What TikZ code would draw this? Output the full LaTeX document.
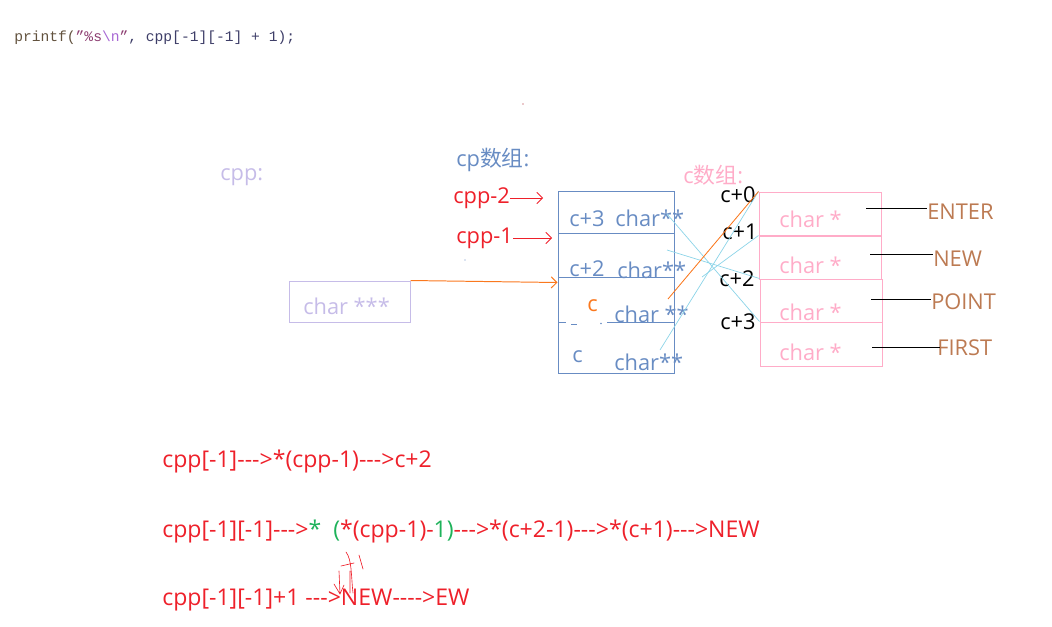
\documentclass[tikz,border=0pt]{standalone}
\usepackage{fontspec}
\newfontfamily\latinfont{Open Sans}
\newfontfamily\cjk{Noto Sans CJK SC}
\newfontfamily\codefont{Liberation Mono}
\usepackage{xcolor}
\usepackage{tikz}
\usetikzlibrary{arrows.meta, positioning}
\definecolor{ptrred}{RGB}{238,32,42}
\definecolor{cpblue}{RGB}{104,140,195}
\definecolor{tplav}{RGB}{198,188,232}
\definecolor{cpink}{RGB}{255,172,200}
\definecolor{strbrown}{RGB}{188,122,82}
\definecolor{ptrorange}{RGB}{250,120,30}
\definecolor{linkblue}{RGB}{140,212,232}
\definecolor{stepgreen}{RGB}{30,178,90}
\definecolor{codedark}{RGB}{62,62,104}
\definecolor{codefn}{RGB}{98,82,62}
\definecolor{codestr}{RGB}{140,60,112}
\definecolor{codeesc}{RGB}{168,104,212}
\tikzset{
  lbl/.style={anchor=west, inner sep=0pt, font=\latinfont\fontsize{15.5}{18}\selectfont},
  work/.style={lbl, ptrred, font=\latinfont\fontsize{16.4}{19}\selectfont},
  code/.style={anchor=west, inner sep=0pt, font=\codefont\fontsize{10.4}{12}\selectfont, codedark},
  tpbox/.style={draw=tplav, line width=0.7pt, minimum width=3cm, minimum height=1.025cm, inner sep=0pt},
  cpbox/.style={draw=cpblue, line width=0.7pt, minimum width=2.9cm, minimum height=4.525cm, inner sep=0pt},
  cbox/.style={draw=cpink, line width=0.7pt, minimum width=3.05cm, minimum height=1.075cm, inner sep=0pt},
  rarr/.style={ptrred, line width=0.6pt, -{Straight Barb[length=4pt, width=8pt]}},
  link/.style={linkblue, line width=0.5pt},
}
\begin{document}
\begin{tikzpicture}[x=0.025cm, y=-0.025cm]
  \useasboundingbox (0,0) rectangle (1052,626);
  % source line
  \node[code] (src) at (14,38) {\textcolor{codefn}{printf(}\textcolor{codestr}{”\%s}\textcolor{codeesc}{\textbackslash n}\textcolor{codestr}{”}, cpp[-1][-1] + 1);};
  \fill[ptrred!70!black] (523,104) circle (0.6);
  \fill[cpblue] (465,260) circle (0.6);

  % titles
  \node[lbl, tplav] (cpplab) at (220,177) {cpp:};
  \node[lbl, cpblue] (cplab) at (456,160) {cp{\cjk 数组}:};
  \node[lbl, cpink] (clab) at (683,175) {c{\cjk 数组}:};

  % cpp itself
  \node[tpbox] (tp) at (350,301.5) {};
  \node[lbl, tplav] (tptxt) at (303,306) {char ***};

  % cp array
  \node[cpbox] (cp) at (616,282.5) {};
  \draw[cpblue, line width=0.7pt] (558,233) -- (674,233);
  \draw[cpblue, line width=0.7pt] (558,277) -- (674,277);
  \draw[cpblue, line width=0.7pt] (558,322) -- (566,322) (571,324) -- (577,324) (607,322) -- (674,322);
  \fill[cpblue] (601,323.5) circle (0.8);
  \node[lbl, cpblue] (k3) at (569,219) {c+3};
  \node[lbl, cpblue] (p3) at (615,218) {char**};
  \node[lbl, cpblue] (k2) at (569,269) {c+2};
  \node[lbl, cpblue] (p2) at (617,270) {char**};
  \node[lbl, ptrorange] (k1) at (587,306) {c};
  \node[lbl, cpblue] (p1) at (614,314) {char **};
  \node[lbl, cpblue] (k0) at (572,357) {c};
  \node[lbl, cpblue] (p0) at (614,362) {char**};

  % pointers into cp
  \node[lbl, ptrred] (m2) at (453,198) {cpp-2};
  \node[lbl, ptrred] (m1) at (456,238) {cpp-1};
  \coordinate (m2e) at (543,198);
  \coordinate (m1e) at (552,238);
  \draw[rarr] (m2) -- (m2e);
  \draw[rarr] (m1) -- (m1e);
  \draw[ptrorange, line width=0.7pt, -{Straight Barb[length=4pt, width=8pt]}] (tp.north east) -- (cp.west);

  % c array
  \node[cbox] (c0) at (820,213.5) {};
  \node[cbox] (c1) at (820,257.5) {};
  \node[cbox] (c2) at (821,300.5) {};
  \node[cbox, minimum height=1.1cm] (c3) at (821,344) {};
  \foreach \i/\y in {0/219, 1/265, 2/312, 3/352}
    \node[lbl, cpink] (s\i txt) at (779,\y) {char *};
  \node[lbl] (a0) at (720,195) {c+0};
  \node[lbl] (a1) at (722,232) {c+1};
  \node[lbl] (a2) at (719,279) {c+2};
  \node[lbl] (a3) at (720,322) {c+3};

  % cp elements -> c elements
  \coordinate (r3) at (667,214);
  \coordinate (r2) at (667,250);
  \coordinate (r1) at (668,299);
  \coordinate (r0) at (660,350);
  \coordinate (r0b) at (702,277);
  \draw[link] (r3) -- (c3.north west);
  \draw[link] (r2) -- (c2.north west);
  \draw[link] (r0) -- (c0.north west);
  \draw[link] (r0b) -- (c1.north west);
  \draw[ptrorange, line width=0.6pt] (r1) -- (c0.north west);

  % strings
  \node[lbl, strbrown] (enter) at (927,212) {ENTER};
  \node[lbl, strbrown] (new) at (933,259) {NEW};
  \node[lbl, strbrown] (point) at (931,302) {POINT};
  \node[lbl, strbrown] (first) at (937,348) {FIRST};
  \coordinate (e0) at (866,208);
  \coordinate (e1) at (870,254);
  \coordinate (e2) at (871,299);
  \coordinate (e3) at (872,347);
  \draw[line width=0.6pt] (e0) -- (enter.west |- e0);
  \draw[line width=0.6pt] (e1) -- (new.west |- e1);
  \draw[line width=0.6pt] (e2) -- (point.west |- e2);
  \draw[line width=0.6pt] (e3) -- ([xshift=0.08cm]first.west |- e3);

  % working
  \node[work] (w1) at (162,462) {cpp[-1]-{}-{}->*(cpp-1)-{}-{}->c+2};
  \node[work] (w2) at (162,531) {cpp[-1][-1]-{}-{}->\textcolor{stepgreen}{*}\ \ \textcolor{stepgreen}{(}*(cpp-1)-\textcolor{stepgreen}{1)}-{}-{}->*(c+2-1)-{}-{}->*(c+1)-{}-{}->NEW};
  \node[work] (w3) at (162,600) {cpp[-1][-1]+1 -{}-{}->NEW-{}-{}-{}->EW};
  \draw[ptrred, line width=0.45pt, line cap=round]
    (339,571) -- (340,594) (334,584) -- (340,594) -- (344,585)
    (346,552) .. controls (352,560) and (351,575) .. (353,593)
    (341,566) -- (354,563)
    (359,555) -- (363,569)
    (350,571) -- (350,593);
\end{tikzpicture}
\end{document}
